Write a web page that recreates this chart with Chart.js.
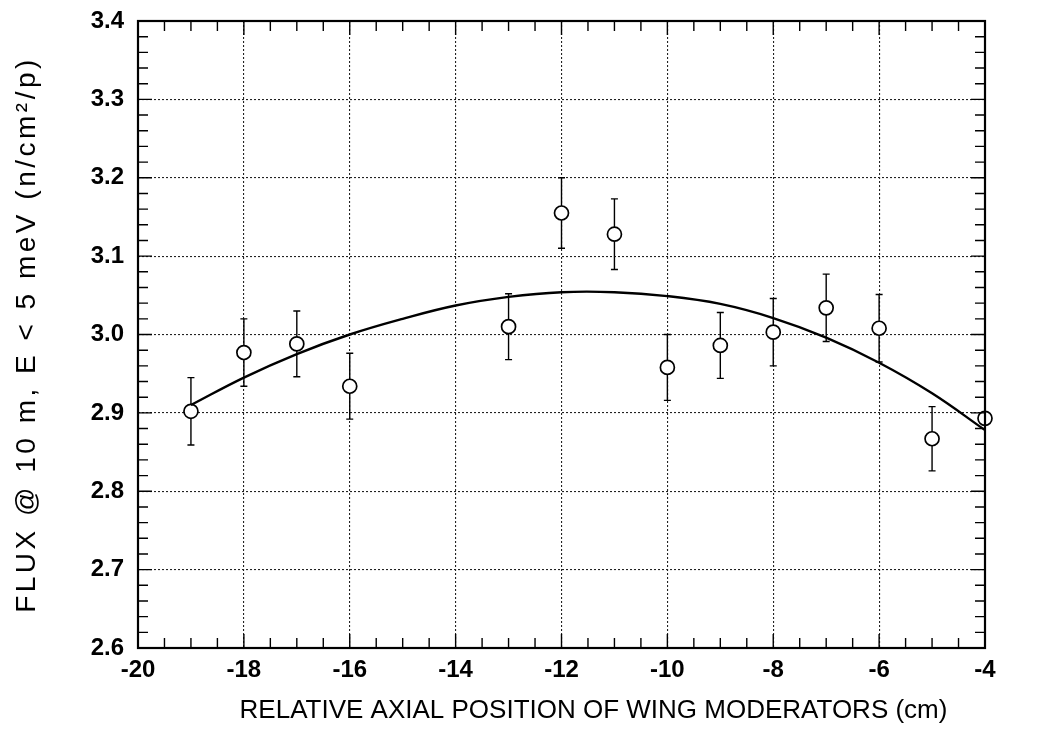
<!DOCTYPE html>
<html>
<head>
<meta charset="utf-8">
<script src="https://cdn.jsdelivr.net/npm/chart.js@4/dist/chart.umd.min.js"></script>
<style>
  body { margin: 0; background: #fff; }
  #wrap { width: 1037px; height: 740px; }
</style>
</head>
<body>
<div id="wrap"><canvas id="chart" width="1037" height="740"></canvas></div>
<script>
const positions = [-19, -18, -17, -16, -13, -12, -11, -10, -9, -8, -7, -6, -5, -4];
const flux = [2.902, 2.977, 2.988, 2.934, 3.010, 3.155, 3.128, 2.958, 2.986, 3.003, 3.034, 3.008, 2.867, 2.893];
const fluxErr = [0.043, 0.043, 0.042, 0.042, 0.042, 0.045, 0.045, 0.042, 0.042, 0.043, 0.043, 0.043, 0.041, null];

// fitted curve, read at integer positions
const fitX = [-19, -18, -17, -16, -15, -14, -13, -12, -11, -10, -9, -8, -7, -6, -5, -4];
const fitY = [2.910, 2.945, 2.975, 3.000, 3.020, 3.037, 3.048, 3.054, 3.054, 3.049, 3.039, 3.021, 2.996, 2.964, 2.925, 2.878];

const xTicks = [-20, -18, -16, -14, -12, -10, -8, -6, -4];
const yTicks = [2.6, 2.7, 2.8, 2.9, 3.0, 3.1, 3.2, 3.3, 3.4];

const FONT = "'Liberation Sans', Arial, sans-serif";

// the scanned titles are set a bit wider than Arial, and the x title sits right of centre
const titleTweaks = {
    id: 'titleTweaks',
    beforeDraw(chart) {
        const ctx = chart.ctx;
        const ys = chart.scales.y, xs = chart.scales.x;
        if (!ys._patched) {
            const orig = ys.drawTitle;
            ys.drawTitle = function () {
                ctx.save();
                ctx.letterSpacing = '3.5px';
                orig.call(this);
                ctx.restore();
            };
            ys._patched = true;
        }
        if (!xs._patched) {
            const orig = xs.drawTitle;
            xs.drawTitle = function () {
                ctx.save();
                ctx.translate(32, 0);
                orig.call(this);
                ctx.restore();
            };
            xs._patched = true;
        }
    }
};

const framePlugin = {
    id: 'frame',
    afterDatasetsDraw(chart) {
        const ctx = chart.ctx;
        const a = chart.chartArea;
        const xs = chart.scales.x, ys = chart.scales.y;
        ctx.save();
        ctx.strokeStyle = '#000';
        ctx.lineWidth = 1.4;
        // minor ticks on x (every 0.5)
        ctx.beginPath();
        for (let v = -20; v <= -4.0001; v += 0.5) {
            const px = xs.getPixelForValue(v);
            const len = (Math.abs(v % 2) < 1e-6) ? 14 : 10;
            ctx.moveTo(px, a.bottom); ctx.lineTo(px, a.bottom - len);
            ctx.moveTo(px, a.top); ctx.lineTo(px, a.top + len);
        }
        // minor ticks on y (every 0.02)
        for (let i = 0; i <= 40; i++) {
            const py = ys.getPixelForValue(2.6 + i * 0.02);
            const len = (i % 5 === 0) ? 14 : 10;
            ctx.moveTo(a.left, py); ctx.lineTo(a.left + len, py);
            ctx.moveTo(a.right, py); ctx.lineTo(a.right - len, py);
        }
        ctx.stroke();
        ctx.lineWidth = 2.2;
        ctx.strokeRect(a.left, a.top, a.right - a.left, a.bottom - a.top);
        // error bars
        ctx.lineWidth = 1.4;
        const meta = chart.getDatasetMeta(1);
        meta.data.forEach((pt, i) => {
            const e = fluxErr[i];
            if (e == null) return;
            const x = pt.x;
            const yTop = ys.getPixelForValue(flux[i] + e);
            const yBot = ys.getPixelForValue(flux[i] - e);
            const yC = pt.y;
            ctx.beginPath();
            ctx.moveTo(x, yTop); ctx.lineTo(x, yC - 7);
            ctx.moveTo(x, yC + 7); ctx.lineTo(x, yBot);
            ctx.moveTo(x - 3.5, yTop); ctx.lineTo(x + 3.5, yTop);
            ctx.moveTo(x - 3.5, yBot); ctx.lineTo(x + 3.5, yBot);
            ctx.stroke();
        });
        ctx.restore();
    }
};

new Chart(document.getElementById('chart'), {
    type: 'scatter',
    data: {
        datasets: [{
            type: 'line',
            label: 'fit',
            data: fitX.map((x, i) => ({ x: x, y: fitY[i] })),
            borderColor: '#000',
            borderWidth: 2.4,
            pointRadius: 0,
            tension: 0.4,
            fill: false
        }, {
            label: 'flux',
            data: positions.map((x, i) => ({ x: x, y: flux[i] })),
            pointRadius: 7,
            pointBackgroundColor: '#fff',
            pointBorderColor: '#000',
            pointBorderWidth: 1.7,
            clip: false
        }]
    },
    options: {
        responsive: false,
        animation: false,
        layout: { padding: { top: 21, right: 52, left: 6, bottom: 10 } },
        plugins: {
            legend: { display: false },
            tooltip: { enabled: false }
        },
        scales: {
            x: {
                type: 'linear',
                min: -20,
                max: -4,
                afterBuildTicks: (s) => { s.ticks = xTicks.map(v => ({ value: v })); },
                afterFit: (s) => { s.height = 82; },
                grid: { color: '#222', lineWidth: 1.1, drawTicks: false },
                border: { display: false, dash: [2, 2] },
                ticks: {
                    color: '#000',
                    padding: 8,
                    font: { family: FONT, size: 24, weight: 'bold' },
                    callback: (v) => String(v)
                },
                title: {
                    display: true,
                    text: 'RELATIVE AXIAL POSITION OF WING MODERATORS (cm)',
                    color: '#000',
                    padding: { top: 20 },
                    font: { family: FONT, size: 26 }
                }
            },
            y: {
                min: 2.6,
                max: 3.4,
                afterBuildTicks: (s) => { s.ticks = yTicks.map(v => ({ value: v })); },
                afterFit: (s) => { s.width = 132; s.paddingTop = 0; s.paddingBottom = 0; },
                grid: { color: '#222', lineWidth: 1.1, drawTicks: false },
                border: { display: false, dash: [2, 2] },
                ticks: {
                    color: '#000',
                    padding: 14,
                    font: { family: FONT, size: 24, weight: 'bold' },
                    callback: (v) => Number(v).toFixed(1)
                },
                title: {
                    display: true,
                    text: 'FLUX @ 10 m, E < 5 meV (n/cm\u00B2/p)',
                    color: '#000',
                    padding: { bottom: 4 },
                    font: { family: FONT, size: 28 }
                }
            }
        }
    },
    plugins: [titleTweaks, framePlugin]
});
</script>
</body>
</html>
